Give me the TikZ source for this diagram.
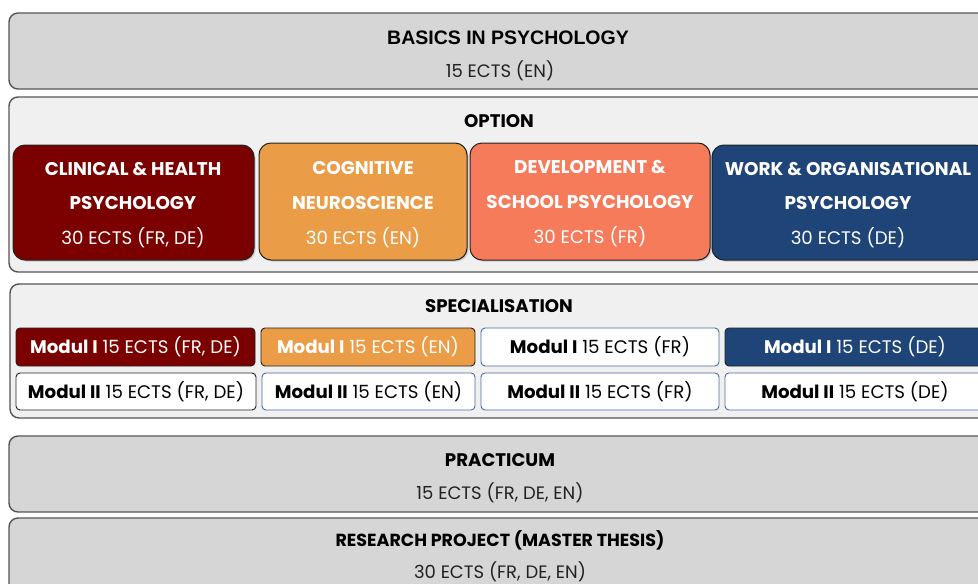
\documentclass[tikz,border=0pt]{standalone}
\usepackage{fontspec}
\setmainfont{Poppins}
\newfontfamily\headfont{Liberation Sans}
\usetikzlibrary{shadows}
\definecolor{graybox}{HTML}{D6D6D6}
\definecolor{lightbox}{HTML}{F0F0F0}
\definecolor{outline}{HTML}{555555}
\definecolor{darkred}{HTML}{7B0000}
\definecolor{optorange}{HTML}{EB9C47}
\definecolor{coral}{HTML}{F67B5B}
\definecolor{navy}{HTML}{1F4477}
\definecolor{bluegray}{HTML}{4C6E9E}
\definecolor{inkgray}{HTML}{222222}
\tikzset{
  outerbox/.style={draw=outline, line width=1.4pt, rounded corners=9pt, inner sep=0pt},
  optbox/.style={draw=inkgray, line width=1pt, rounded corners=12pt, inner sep=0pt,
    drop shadow={shadow xshift=1.5pt, shadow yshift=-1.5pt, opacity=0.35}},
  modbox/.style={draw=#1, line width=0.9pt, rounded corners=4pt, inner sep=0pt},
  titletext/.style={font=\headfont\bfseries\fontsize{19.5}{22}\selectfont, text=black},
  secttext/.style={font=\bfseries\fontsize{18.2}{21}\selectfont, text=black},
  subtext/.style={font=\fontsize{18}{21}\selectfont, text=inkgray},
  opttext/.style={font=\bfseries\fontsize{18.4}{21}\selectfont, text=white},
  optsub/.style={font=\fontsize{18.2}{21}\selectfont, text=white},
  modtext/.style={font=\fontsize{18.2}{21}\selectfont, text=#1},
}
\begin{document}
\begin{tikzpicture}[x=1pt,y=-1pt]
\useasboundingbox (0,0) rectangle (978,584);
\clip (0,0) rectangle (978,584);
% Basics
\node[outerbox, fill=graybox, minimum width=981pt, minimum height=76pt] (basics) at (499.5,51) {};
\node[titletext] (basicsT) at (508,38) {BASICS IN PSYCHOLOGY};
\node[subtext] (basicsS) at (500,71) {15 ECTS (EN)};
% Option
\node[outerbox, fill=lightbox, minimum width=981pt, minimum height=175pt] (option) at (499.5,184.5) {};
\node[secttext] (optionT) at (499,121) {OPTION};
\node[optbox, fill=darkred, minimum width=241pt, minimum height=115pt] (clin) at (133.5,202.5) {};
\node[optbox, fill=optorange, minimum width=208pt, minimum height=117pt] (cog) at (363,201.5) {};
\node[optbox, fill=coral, minimum width=240pt, minimum height=117pt] (dev) at (590,201.5) {};
\node[optbox, fill=navy, minimum width=275pt, minimum height=115pt] (work) at (849.5,202.5) {};
\node[opttext] (clinA) at (133,169) {CLINICAL \& HEALTH};
\node[opttext] (clinB) at (133,203) {PSYCHOLOGY};
\node[optsub] (clinC) at (133,238) {30 ECTS (FR, DE)};
\node[opttext] (cogA) at (363,168) {COGNITIVE};
\node[opttext] (cogB) at (363,203) {NEUROSCIENCE};
\node[optsub] (cogC) at (363,238) {30 ECTS (EN)};
\node[opttext] (devA) at (590,167) {DEVELOPMENT \&};
\node[opttext] (devB) at (590,202) {SCHOOL PSYCHOLOGY};
\node[optsub] (devC) at (590,237) {30 ECTS (FR)};
\node[opttext] (workA) at (848,169) {WORK \& ORGANISATIONAL};
\node[opttext] (workB) at (848,203) {PSYCHOLOGY};
\node[optsub] (workC) at (848,238) {30 ECTS (DE)};
% Specialisation
\node[outerbox, fill=lightbox, minimum width=980pt, minimum height=134pt] (spec) at (500,351) {};
\node[secttext] (specT) at (499,306) {SPECIALISATION};
\node[modbox=inkgray, fill=darkred, minimum width=239pt, minimum height=38pt] (m1a) at (135.5,347) {};
\node[modbox=inkgray, fill=optorange, minimum width=214pt, minimum height=38pt] (m1b) at (368,347) {};
\node[modbox=bluegray, fill=white, minimum width=238pt, minimum height=38pt] (m1c) at (600,347) {};
\node[modbox=inkgray, fill=navy, minimum width=270pt, minimum height=38pt] (m1d) at (860,347) {};
\node[modbox=inkgray, fill=white, minimum width=240pt, minimum height=37pt] (m2a) at (136,391.5) {};
\node[modbox=bluegray, fill=white, minimum width=213pt, minimum height=37pt] (m2b) at (368.5,391.5) {};
\node[modbox=bluegray, fill=white, minimum width=238pt, minimum height=37pt] (m2c) at (600,391.5) {};
\node[modbox=bluegray, fill=white, minimum width=270pt, minimum height=37pt] (m2d) at (860,391.5) {};
\node[modtext=white] (m1aT) at (m1a) {\textbf{Modul I} 15 ECTS (FR, DE)};
\node[modtext=white] (m1bT) at (m1b) {\textbf{Modul I} 15 ECTS (EN)};
\node[modtext=black] (m1cT) at (m1c) {\textbf{Modul I} 15 ECTS (FR)};
\node[modtext=white] (m1dT) at (855,347) {\textbf{Modul I} 15 ECTS (DE)};
\node[modtext=black] (m2aT) at (m2a) {\textbf{Modul II} 15 ECTS (FR, DE)};
\node[modtext=black] (m2bT) at (m2b) {\textbf{Modul II} 15 ECTS (EN)};
\node[modtext=black] (m2cT) at (m2c) {\textbf{Modul II} 15 ECTS (FR)};
\node[modtext=black] (m2dT) at (855,391.5) {\textbf{Modul II} 15 ECTS (DE)};
% Practicum
\node[outerbox, fill=graybox, minimum width=981pt, minimum height=76pt] (prac) at (499.5,474) {};
\node[secttext] (pracT) at (500,460) {PRACTICUM};
\node[subtext] (pracS) at (500,493) {15 ECTS (FR, DE, EN)};
% Research
\node[outerbox, fill=graybox, minimum width=981pt, minimum height=90pt] (res) at (499.5,563) {};
\node[secttext, font=\bfseries\fontsize{17.5}{20}\selectfont] (resT) at (500,540) {RESEARCH PROJECT (MASTER THESIS)};
\node[subtext] (resS) at (500,572) {30 ECTS (FR, DE, EN)};
\end{tikzpicture}
\end{document}
